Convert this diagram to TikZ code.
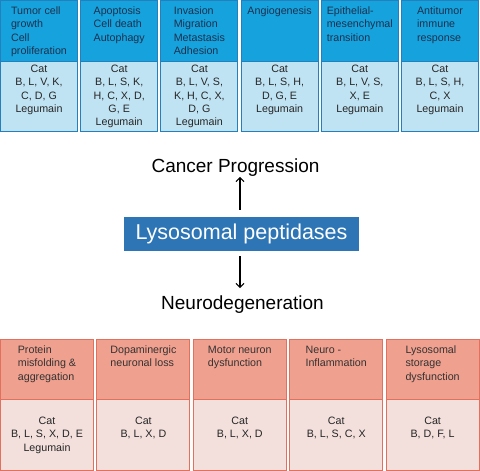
\documentclass[tikz,border=0pt]{standalone}
\usepackage{fontspec}
\setmainfont{Liberation Sans}
\usepackage{tikz}
\usetikzlibrary{arrows.meta}
\definecolor{hdblue}{RGB}{22,163,221}
\definecolor{bdblue}{RGB}{192,227,243}
\definecolor{lnblue}{RGB}{35,128,188}
\definecolor{hdred}{RGB}{240,160,142}
\definecolor{bdred}{RGB}{243,224,220}
\definecolor{lnred}{RGB}{226,112,92}
\definecolor{lysoblue}{RGB}{46,117,182}
\definecolor{hdtext}{RGB}{28,48,78}

\begin{document}
\begin{tikzpicture}[x=1pt, y=-1pt, >={Straight Barb[length=4pt,width=8pt]},
    tophead/.style={fill=hdblue, draw=lnblue, line width=0.9pt},
    topbody/.style={fill=bdblue, draw=lnblue, line width=0.9pt},
    bothead/.style={fill=hdred, draw=lnred, line width=0.9pt},
    botbody/.style={fill=bdred, draw=lnred, line width=0.9pt},
    headtxt/.style={anchor=north, inner sep=0pt, align=left, font=\fontsize{10.7}{13.3}\selectfont},
    bodytxt/.style={anchor=north, inner sep=0pt, align=center, text=black!85, font=\fontsize{10.7}{13.3}\selectfont},
    bigtxt/.style={anchor=base, inner sep=0pt, font=\fontsize{19}{22}\selectfont}]
        \useasboundingbox (0,0) rectangle (480,471);
        % cancer progression columns
        \draw[tophead] (0.5,0.5) rectangle (77.5,61);
        \draw[topbody] (0.5,61) rectangle (77.5,131);
        \draw[tophead] (80.7,0.5) rectangle (157.7,61);
        \draw[topbody] (80.7,61) rectangle (157.7,131);
        \draw[tophead] (160.9,0.5) rectangle (237.9,61);
        \draw[topbody] (160.9,61) rectangle (237.9,131);
        \draw[tophead] (241.1,0.5) rectangle (318.1,61);
        \draw[topbody] (241.1,61) rectangle (318.1,131);
        \draw[tophead] (321.3,0.5) rectangle (398.3,61);
        \draw[topbody] (321.3,61) rectangle (398.3,131);
        \draw[tophead] (401.5,0.5) rectangle (478.5,61);
        \draw[topbody] (401.5,61) rectangle (478.5,131);
        \node[headtxt, text=hdtext] (tumor) at (39,6.5) {Tumor cell\\growth\\Cell\\proliferation};
        \node[headtxt, text=hdtext] (apopt) at (119.2,6.5) {Apoptosis\\Cell death\\Autophagy};
        \node[headtxt, text=hdtext] (invas) at (199.4,6.5) {Invasion\\Migration\\Metastasis\\Adhesion};
        \node[headtxt, text=hdtext] (angio) at (279.6,6.5) {Angiogenesis};
        \node[headtxt, text=hdtext] (emt) at (359.8,6.5) {Epithelial-\\mesenchymal\\transition};
        \node[headtxt, text=hdtext] (immune) at (440,6.5) {Antitumor\\immune\\response};
        \node[bodytxt] (tumorcat) at (39,65) {Cat\\B, L, V, K,\\C, D, G\\Legumain};
        \node[bodytxt] (apoptcat) at (119.2,65) {Cat\\B, L, S, K,\\H, C, X, D,\\G, E\\Legumain};
        \node[bodytxt] (invascat) at (199.4,65) {Cat\\B, L, V, S,\\K, H, C, X,\\D, G\\Legumain};
        \node[bodytxt] (angiocat) at (279.6,65) {Cat\\B, L, S, H,\\D, G, E\\Legumain};
        \node[bodytxt] (emtcat) at (359.8,65) {Cat\\B, L, V, S,\\X, E\\Legumain};
        \node[bodytxt] (immunecat) at (440,65) {Cat\\B, L, S, H,\\C, X\\Legumain};
        % centre
        \node[fill=lysoblue, text=white, minimum width=235pt, minimum height=34pt, inner sep=0pt,
              font=\fontsize{21.5}{24}\selectfont] (lyso) at (241.5,234) {Lysosomal peptidases};
        \node[bigtxt] (cancer) at (235.5,172.3) {Cancer Progression};
        \node[bigtxt] (neuro) at (242.5,309.3) {Neurodegeneration};
        \draw[->, line width=1.2pt] ([xshift=-1.5pt,yshift=7pt]lyso.north) -- ([xshift=-1.5pt,yshift=40pt]lyso.north);
        \draw[->, line width=1.2pt] ([xshift=-1.5pt,yshift=-5pt]lyso.south) -- ([xshift=-1.5pt,yshift=-37pt]lyso.south);
        % neurodegeneration columns
        \draw[bothead] (0.5,339) rectangle (93.5,399);
        \draw[botbody] (0.5,399) rectangle (93.5,470);
        \draw[bothead] (96.9,339) rectangle (189.9,399);
        \draw[botbody] (96.9,399) rectangle (189.9,470);
        \draw[bothead] (193.3,339) rectangle (286.3,399);
        \draw[botbody] (193.3,399) rectangle (286.3,470);
        \draw[bothead] (289.7,339) rectangle (382.7,399);
        \draw[botbody] (289.7,399) rectangle (382.7,470);
        \draw[bothead] (386.1,339) rectangle (479.1,399);
        \draw[botbody] (386.1,399) rectangle (479.1,470);
        \node[headtxt, text=black!80] (misfold) at (47,345.5) {Protein\\misfolding \&\\aggregation};
        \node[headtxt, text=black!80] (dopa) at (143.4,345.5) {Dopaminergic\\neuronal loss};
        \node[headtxt, text=black!80] (motor) at (239.8,345.5) {Motor neuron\\dysfunction};
        \node[headtxt, text=black!80] (inflam) at (336.2,345.5) {Neuro -\\Inflammation};
        \node[headtxt, text=black!80] (storage) at (432.6,345.5) {Lysosomal\\storage\\dysfunction};
        \node[bodytxt] (misfoldcat) at (47,417) {Cat\\B, L, S, X, D, E\\Legumain};
        \node[bodytxt] (dopacat) at (143.4,417) {Cat\\B, L, X, D};
        \node[bodytxt] (motorcat) at (239.8,417) {Cat\\B, L, X, D};
        \node[bodytxt] (inflamcat) at (336.2,417) {Cat\\B, L, S, C, X};
        \node[bodytxt] (storagecat) at (432.6,417) {Cat\\B, D, F, L};
    \end{tikzpicture}
\end{document}
